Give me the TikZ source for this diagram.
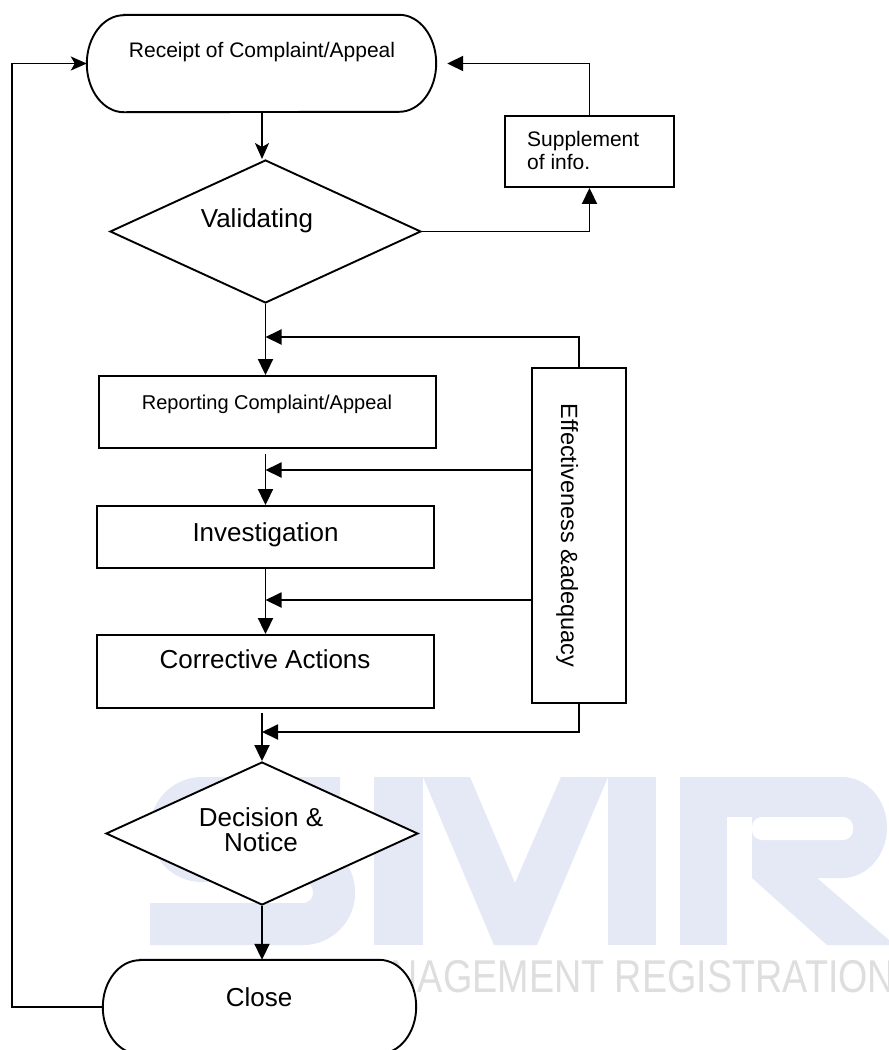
\documentclass[tikz,border=0pt]{standalone}
\usepackage{fontspec}
\setmainfont{Liberation Sans}
\usetikzlibrary{shapes.geometric,arrows.meta,calc}
\definecolor{wmblue}{RGB}{229,233,246}
\definecolor{wmgray}{RGB}{222,222,222}
\begin{document}
\begin{tikzpicture}[x=1pt,y=-1pt,
  line/.style={line width=1.9pt, black},
  tri/.style={line, -{Triangle[length=16pt,width=15pt]}},
  stl/.style={line, -{Stealth[length=16pt,width=14pt,inset=4pt]}},
  box/.style={draw, line width=1.9pt, fill=white, rectangle, inner sep=0pt},
  dia/.style={draw, line width=1.9pt, fill=white, diamond, inner sep=0pt},
  holder/.style={rectangle, inner sep=0pt, draw=none},
  lbl/.style={inner sep=0pt, anchor=base, font=\fontsize{26}{28}\selectfont},
  lblm/.style={inner sep=0pt, anchor=base, font=\fontsize{21}{23}\selectfont},
]
\useasboundingbox (0,0) rectangle (889,1050);
\clip (0,0) rectangle (889,1050);
\fill[white] (0,0) rectangle (889,1050);

% ---- watermark ----
\draw[wmblue, line width=42pt, rounded corners=31pt] (340,798) -- (171,798) -- (171,861) -- (334,861) -- (334,924) -- (150,924);
\fill[wmblue] (374,777) rectangle (423,945);
\fill[wmblue] (608,777) rectangle (656,945);
\fill[wmblue] (423,777) -- (470,777) -- (515,883) -- (561,777) -- (608,777) -- (537,945) -- (494,945) -- cycle;
\fill[wmblue] (680,777) rectangle (727,945);
\fill[wmblue] (727,777) -- (842,777) arc[start angle=-90,end angle=90,x radius=45,y radius=50.5] -- (727,878) -- cycle;
\fill[white] (727,817) rectangle (752,945);
\fill[white, rounded corners=10pt] (752,817) rectangle (853,840);
\fill[wmblue] (752,878) -- (817,878) -- (889,940) -- (889,945) -- (827,945) -- cycle;
\node[inner sep=0pt, anchor=base west, xscale=0.82, text=wmgray, font=\fontsize{46}{48}\selectfont] (wmtext) at (334,992) {MANAGEMENT REGISTRATION};

% ---- terminals ----
\node[holder, minimum width=349pt, minimum height=97pt] (receipt) at (261.5,63.5) {};
\draw[line, fill=white] ($(receipt.north west)+(37,0)$) -- ($(receipt.north east)+(-37,0)$)
  arc[start angle=-90, end angle=90, x radius=37, y radius=48.5]
  -- ($(receipt.south west)+(37,0)$)
  arc[start angle=90, end angle=270, x radius=37, y radius=48.5] -- cycle;
\node[lblm] (receipt-t) at (262,57) {Receipt of Complaint/Appeal};

\node[holder, minimum width=313pt, minimum height=94pt] (close) at (259.5,1007) {};
\draw[line, fill=white] ($(close.north west)+(37,0)$) -- ($(close.north east)+(-37,0)$)
  arc[start angle=-90, end angle=90, x radius=37, y radius=47]
  -- ($(close.south west)+(37,0)$)
  arc[start angle=90, end angle=270, x radius=37, y radius=47] -- cycle;
\node[lbl] (close-t) at (259,1006) {Close};

% ---- diamonds ----
\node[dia, minimum width=311pt, minimum height=143pt] (validating) at (265.5,231.5) {};
\node[lbl] (validating-t) at (257,227) {Validating};
\node[dia, minimum width=312pt, minimum height=143pt] (decision) at (262,833.5) {};
\node[lbl] (decision-t1) at (261,826) {Decision \&};
\node[lbl] (decision-t2) at (261,851) {Notice};

% ---- boxes ----
\node[box, minimum width=169pt, minimum height=71pt] (supplement) at (589.5,151.5) {};
\node[inner sep=0pt, anchor=base west, font=\fontsize{21}{23}\selectfont] (supplement-t1) at (527,146) {Supplement};
\node[inner sep=0pt, anchor=base west, font=\fontsize{21}{23}\selectfont] (supplement-t2) at (527,169) {of info.};

\node[box, minimum width=337pt, minimum height=72pt] (reporting) at (267.5,412) {};
\node[inner sep=0pt, anchor=base, font=\fontsize{20}{22}\selectfont] (reporting-t) at (267,409) {Reporting Complaint/Appeal};

\node[box, minimum width=337pt, minimum height=62pt] (investigation) at (265.5,537) {};
\node[lbl] (investigation-t) at (265.5,541) {Investigation};

\node[box, minimum width=337pt, minimum height=73pt] (corrective) at (265.5,671.5) {};
\node[lbl] (corrective-t) at (265,668) {Corrective Actions};

\node[box, minimum width=94pt, minimum height=335pt] (effect) at (579,535.5) {};
\node[inner sep=0pt, anchor=base, rotate=-90, font=\fontsize{23.5}{25}\selectfont] (effect-t) at (561,535.5) {Effectiveness \&adequacy};

% ---- junctions ----
\coordinate (j1) at (265.5,337);
\coordinate (j2) at (265.5,470);
\coordinate (j3) at (265.5,600);
\coordinate (j4) at (262,732);
\coordinate (lx) at (12,0);

% ---- connectors ----
\draw[stl] (receipt.south -| 262,0) -- (validating.north -| 262,0);
\draw[tri] (validating.south) -- (validating.south |- reporting.north);
\draw[tri, shorten <=5pt] (reporting.south -| j2) -- (investigation.north -| j2);
\draw[tri] (investigation.south) -- (corrective.north);
\draw[tri, shorten <=4pt] (corrective.south -| j4) -- (decision.north);
\draw[tri] (decision.south) -- (decision.south |- close.north);

\draw[tri] (effect.north) |- (j1);
\draw[tri] (effect.west |- j2) -- (j2);
\draw[tri] (effect.west |- j3) -- (j3);
\draw[tri] (effect.south) |- (j4);

\draw[tri] (validating.east) -| (supplement.south);
\draw[tri, shorten >=11pt] (supplement.north) |- (receipt.east);

\draw[stl] (close.west) -- (close.west -| lx) -- (receipt.west -| lx) -- (receipt.west);
\end{tikzpicture}
\end{document}
